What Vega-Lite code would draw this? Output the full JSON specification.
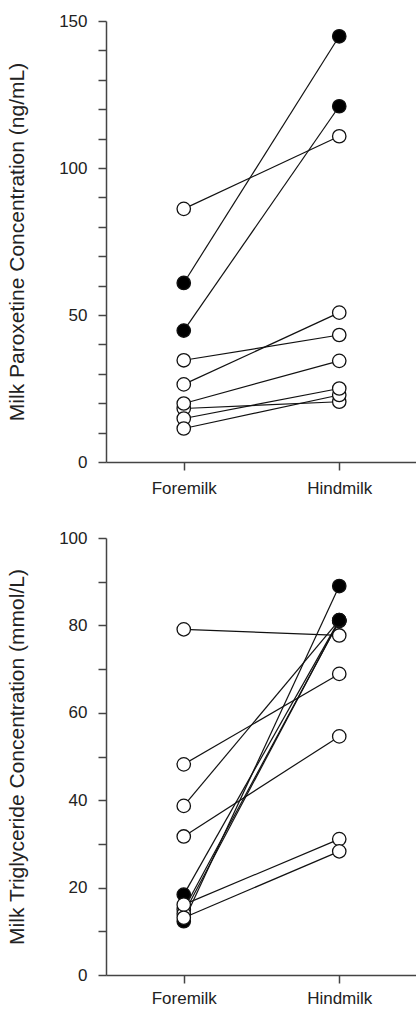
{
  "$schema": "https://vega.github.io/schema/vega-lite/v6.json",
  "padding": {"left": 6, "top": 12, "right": 0, "bottom": 2},
  "background": "white",
  "config": {
    "view": {"stroke": null},
    "font": "Liberation Sans",
    "axis": {
      "grid": false,
      "labelFont": "Liberation Sans",
      "titleFont": "Liberation Sans",
      "labelFontSize": 17,
      "titleFontSize": 21,
      "titleFontWeight": "normal",
      "labelColor": "#222",
      "titleColor": "#222",
      "domainColor": "#444",
      "tickColor": "#444",
      "domainWidth": 1.5,
      "tickWidth": 1.5,
      "tickSize": 8,
      "labelPadding": 11
    }
  },
  "datasets": {
    "para": [
      {"subject": 2, "milk": "Foremilk", "value": 60.9, "type": "filled"},
      {"subject": 3, "milk": "Foremilk", "value": 44.7, "type": "filled"},
      {"subject": 7, "milk": "Foremilk", "value": 18.2, "type": "open"},
      {"subject": 8, "milk": "Foremilk", "value": 14.8, "type": "open"},
      {"subject": 1, "milk": "Foremilk", "value": 86.1, "type": "open"},
      {"subject": 4, "milk": "Foremilk", "value": 34.6, "type": "open"},
      {"subject": 5, "milk": "Foremilk", "value": 26.4, "type": "open"},
      {"subject": 6, "milk": "Foremilk", "value": 19.9, "type": "open"},
      {"subject": 9, "milk": "Foremilk", "value": 11.4, "type": "open"},
      {"subject": 1, "milk": "Hindmilk", "value": 110.8, "type": "open"},
      {"subject": 4, "milk": "Hindmilk", "value": 43.2, "type": "open"},
      {"subject": 5, "milk": "Hindmilk", "value": 50.8, "type": "open"},
      {"subject": 6, "milk": "Hindmilk", "value": 34.4, "type": "open"},
      {"subject": 7, "milk": "Hindmilk", "value": 20.5, "type": "open"},
      {"subject": 9, "milk": "Hindmilk", "value": 22.8, "type": "open"},
      {"subject": 8, "milk": "Hindmilk", "value": 25.0, "type": "open"},
      {"subject": 2, "milk": "Hindmilk", "value": 144.8, "type": "filled"},
      {"subject": 3, "milk": "Hindmilk", "value": 121.0, "type": "filled"}
    ],
    "tri": [
      {"subject": 6, "milk": "Foremilk", "value": 12.3, "type": "filled"},
      {"subject": 5, "milk": "Foremilk", "value": 18.4, "type": "filled"},
      {"subject": 9, "milk": "Foremilk", "value": 15.0, "type": "open"},
      {"subject": 10, "milk": "Foremilk", "value": 14.0, "type": "open"},
      {"subject": 1, "milk": "Foremilk", "value": 79.1, "type": "open"},
      {"subject": 2, "milk": "Foremilk", "value": 48.2, "type": "open"},
      {"subject": 3, "milk": "Foremilk", "value": 38.7, "type": "open"},
      {"subject": 4, "milk": "Foremilk", "value": 31.7, "type": "open"},
      {"subject": 7, "milk": "Foremilk", "value": 16.1, "type": "open"},
      {"subject": 8, "milk": "Foremilk", "value": 13.1, "type": "open"},
      {"subject": 9, "milk": "Hindmilk", "value": 81.0, "type": "open"},
      {"subject": 10, "milk": "Hindmilk", "value": 81.1, "type": "open"},
      {"subject": 3, "milk": "Hindmilk", "value": 81.2, "type": "open"},
      {"subject": 1, "milk": "Hindmilk", "value": 77.7, "type": "open"},
      {"subject": 2, "milk": "Hindmilk", "value": 68.9, "type": "open"},
      {"subject": 4, "milk": "Hindmilk", "value": 54.6, "type": "open"},
      {"subject": 7, "milk": "Hindmilk", "value": 31.1, "type": "open"},
      {"subject": 8, "milk": "Hindmilk", "value": 28.3, "type": "open"},
      {"subject": 5, "milk": "Hindmilk", "value": 81.2, "type": "filled"},
      {"subject": 6, "milk": "Hindmilk", "value": 89.0, "type": "filled"}
    ]
  },
  "spacing": 33,
  "vconcat": [
    {
      "width": 311,
      "height": 441,
      "data": {"name": "para"},
      "encoding": {
        "x": {
          "field": "milk", "type": "nominal",
          "sort": ["Foremilk", "Hindmilk"],
          "scale": {"type": "point", "padding": 0.5},
          "axis": {"title": null, "labelAngle": 0, "labelPadding": 10}
        },
        "y": {
          "field": "value", "type": "quantitative",
          "scale": {"domain": [0, 150], "nice": false},
          "axis": {
            "title": "Milk Paroxetine Concentration (ng/mL)",
            "values": [0,10,20,30,40,50,60,70,80,90,100,110,120,130,140,150],
            "labelExpr": "datum.value % 50 === 0 ? datum.label : ''",
            "titlePadding": 31
          }
        }
      },
      "layer": [
        {
          "mark": {"type": "line", "color": "#111", "strokeWidth": 1.2},
          "encoding": {"detail": {"field": "subject"}}
        },
        {
          "mark": {"type": "point", "shape": "circle", "filled": true, "size": 180, "stroke": "#111", "strokeWidth": 1.3, "opacity": 1},
          "encoding": {
            "fill": {"field": "type", "type": "nominal", "scale": {"domain": ["open", "filled"], "range": ["white", "black"]}, "legend": null}
          }
        }
      ]
    },
    {
      "width": 311,
      "height": 437,
      "data": {"name": "tri"},
      "encoding": {
        "x": {
          "field": "milk", "type": "nominal",
          "sort": ["Foremilk", "Hindmilk"],
          "scale": {"type": "point", "padding": 0.5},
          "axis": {"title": null, "labelAngle": 0, "labelPadding": 7}
        },
        "y": {
          "field": "value", "type": "quantitative",
          "scale": {"domain": [0, 100], "nice": false},
          "axis": {
            "title": "Milk Triglyceride Concentration (mmol/L)",
            "values": [0,10,20,30,40,50,60,70,80,90,100],
            "labelExpr": "datum.value % 20 === 0 ? datum.label : ''",
            "titlePadding": 31
          }
        }
      },
      "layer": [
        {
          "mark": {"type": "line", "color": "#111", "strokeWidth": 1.2},
          "encoding": {"detail": {"field": "subject"}}
        },
        {
          "mark": {"type": "point", "shape": "circle", "filled": true, "size": 180, "stroke": "#111", "strokeWidth": 1.3, "opacity": 1},
          "encoding": {
            "fill": {"field": "type", "type": "nominal", "scale": {"domain": ["open", "filled"], "range": ["white", "black"]}, "legend": null}
          }
        }
      ]
    }
  ]
}
